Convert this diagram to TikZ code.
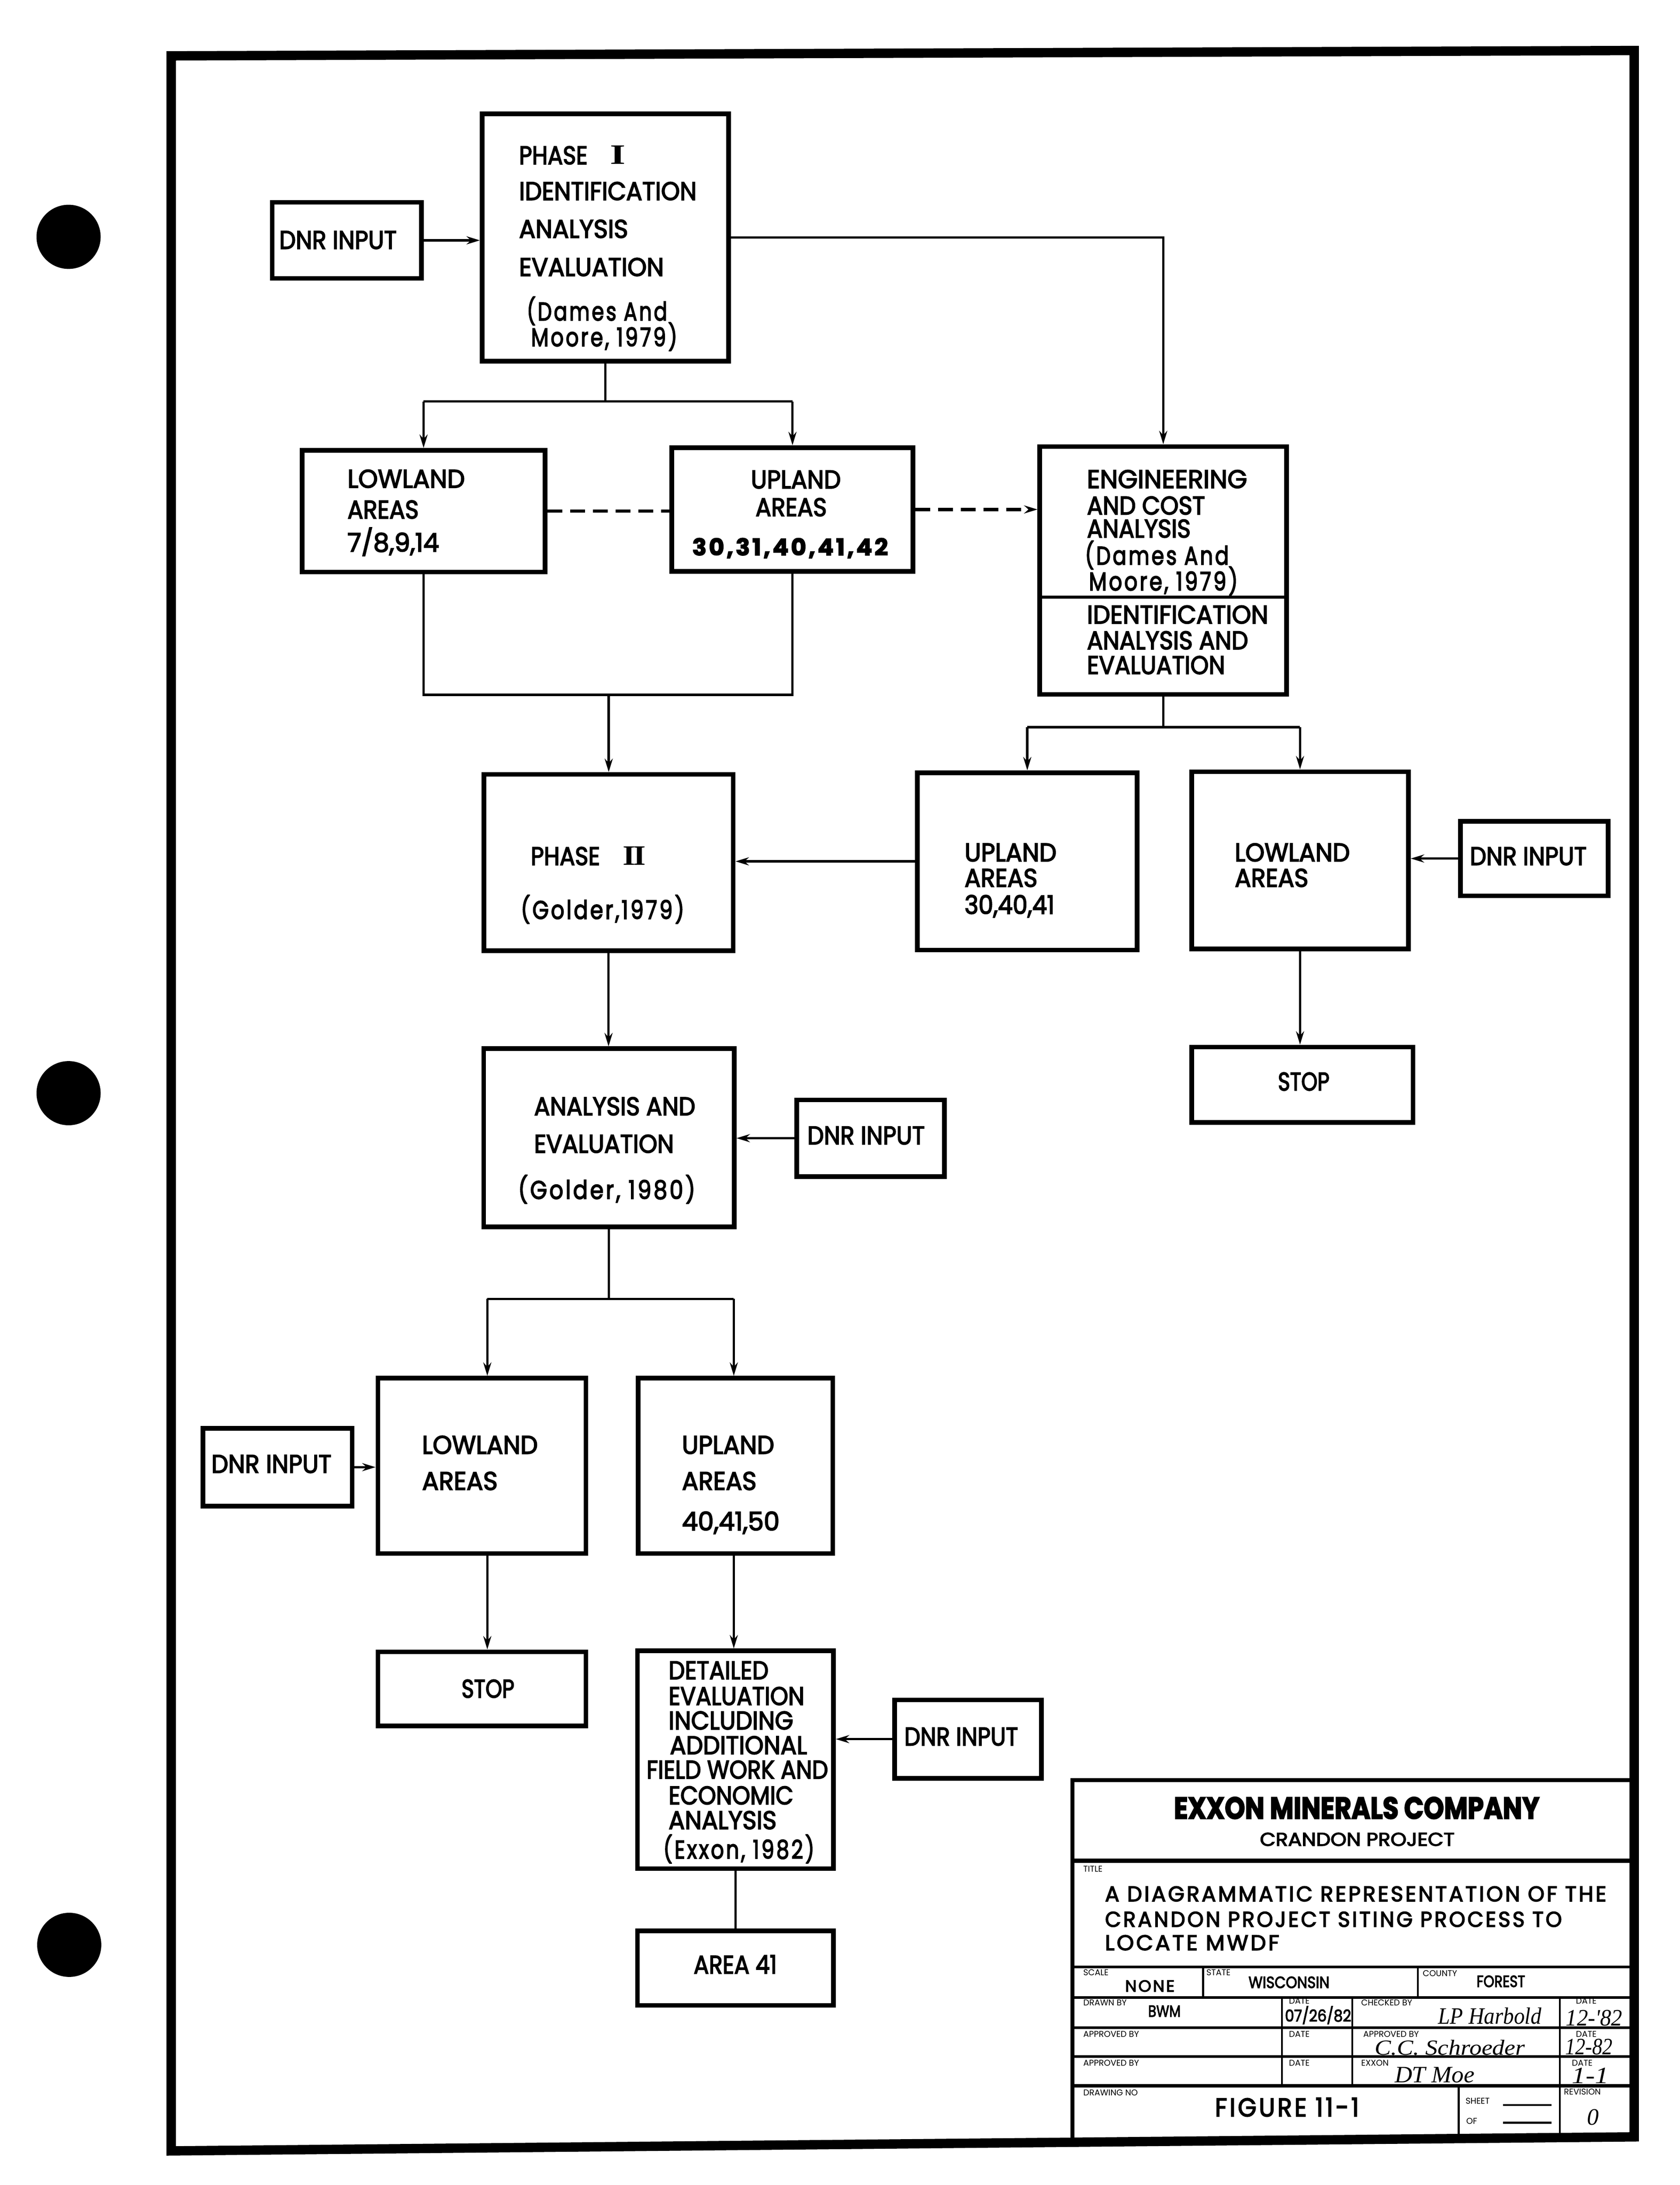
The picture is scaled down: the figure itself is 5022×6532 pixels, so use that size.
\documentclass[tikz,border=0pt]{standalone}
\usepackage{fontspec}
\usepackage{graphicx}
\setmainfont{Poppins}[FakeBold=3.5]
\newfontfamily\tinyfont{Poppins}
\newfontfamily\romfont{Liberation Serif}
\newfontfamily\handfont{Liberation Serif}
\usetikzlibrary{arrows.meta,fit}
\newcommand\fw[2]{\resizebox{\dimexpr 0.005cm*#1\relax}{\height}{#2}}
\newcommand\fmain{\fontsize{10.9}{13}\selectfont}
\newcommand\fnum{\fontsize{9.8}{12}\selectfont\bfseries}
\newcommand\ftiny{\tinyfont\fontsize{3.6}{4}\selectfont}
\newcommand\fexx{\fontsize{13}{15}\selectfont\bfseries}
\newcommand\fcran{\fontsize{7.9}{9}\selectfont}
\newcommand\ftitle{\fontsize{9.1}{11}\selectfont}
\newcommand\fcell{\fontsize{6.9}{8}\selectfont}
\newcommand\ffig{\fontsize{11}{13}\selectfont}
\newcommand\fhand{\handfont\itshape\fontsize{10}{12}\selectfont}
\newcommand\froman{\romfont\bfseries\fontsize{12}{14}\selectfont}
\newcommand\lsp{\addfontfeature{LetterSpace=10}}
\begin{document}
\begin{tikzpicture}[x=0.005cm,y=-0.005cm,
  box/.style={draw, line width=0.07cm, inner sep=0pt},
  txt/.style={inner sep=0pt, outer sep=0pt, anchor=base west, font=\fmain},
  tiny/.style={inner sep=0pt, outer sep=0pt, anchor=base west, font=\ftiny},
  con/.style={line width=0.035cm},
  arr/.style={con, -{Stealth[length=0.2cm,width=0.12cm]}},
  dsh/.style={line width=0.05cm, dash pattern=on 0.22cm off 0.12cm},
  tbl/.style={line width=0.04cm},
  tblc/.style={line width=0.03cm}]
% background / bounding box
\fill[white] (0,0) rectangle (5022,6532);
% frame and punch holes
\draw[line width=0.14cm, line join=miter] (512,167) -- (4886,151) -- (4886,6388) -- (512,6430) -- cycle;
\fill (205,708) circle (0.48cm);
\fill (205,3268) circle (0.48cm);
\fill (207,5814) circle (0.48cm);

% ---------- boxes ----------
\node[box, fit={(814,605) (1260,832)}] (dnr1) {};
\node[box, fit={(1442,340) (2178,1080)}] (ph1) {};
\node[box, fit={(903,1346) (1630,1710)}] (low1) {};
\node[box, fit={(2009,1338) (2730,1708)}] (up1) {};
\node[box, fit={(3109,1335) (3847,2076)}] (eng) {};
\node[box, fit={(1447,2315) (2192,2842)}] (ph2) {};
\node[box, fit={(2743,2310) (3400,2840)}] (up2) {};
\node[box, fit={(3563,2307) (4211,2837)}] (low2) {};
\node[box, fit={(4367,2455) (4808,2678)}] (dnr2) {};
\node[box, fit={(3563,3130) (4225,3355)}] (stop1) {};
\node[box, fit={(1446,3135) (2195,3668)}] (an) {};
\node[box, fit={(2382,3288) (2824,3517)}] (dnr3) {};
\node[box, fit={(1130,4120) (1752,4644)}] (low3) {};
\node[box, fit={(1908,4120) (2490,4644)}] (up3) {};
\node[box, fit={(607,4270) (1053,4502)}] (dnr4) {};
\node[box, fit={(1130,4938) (1752,5160)}] (stop2) {};
\node[box, fit={(1906,4935) (2492,5586)}] (det) {};
\node[box, fit={(2675,5082) (3114,5316)}] (dnr5) {};
\node[box, fit={(1906,5772) (2492,5995)}] (a41) {};
\coordinate (dv) at (0,1785);
\draw[line width=0.05cm] (eng.west |- dv) -- (eng.east |- dv);

% ---------- connectors ----------
\draw[arr] (dnr1.east) -- (dnr1.east -| ph1.west);
\draw[arr] (ph1.east) -| (eng.north);
\coordinate (s1) at (1810,1200);
\draw[con] (ph1.south) -- (s1);
\coordinate (s1l) at (low1.north |- s1);
\coordinate (s1r) at (up1.north |- s1);
\draw[con] (s1l) -- (s1r);
\draw[arr] (s1l) -- (low1.north);
\draw[arr] (s1r) -- (up1.north);
\draw[dsh] (low1.east) -- (low1.east -| up1.west);
\draw[dsh, -{Stealth[length=0.2cm,width=0.12cm]}] (up1.east) -- (up1.east -| eng.west);
\coordinate (m1) at (1820,2077);
\draw[con] (low1.south) -- (low1.south |- m1) -- (up1.south |- m1) -- (up1.south);
\draw[arr] (m1) -- (m1 |- ph2.north);
\coordinate (s2) at (3478,2174);
\draw[con] (eng.south) -- (s2);
\coordinate (s2l) at (up2.north |- s2);
\coordinate (s2r) at (low2.north |- s2);
\draw[con] (s2l) -- (s2r);
\draw[arr] (s2l) -- (up2.north);
\draw[arr] (s2r) -- (low2.north);
\draw[arr] (up2.west) -- (up2.west -| ph2.east);
\draw[arr] (dnr2.west) -- (dnr2.west -| low2.east);
\draw[arr] (low2.south) -- (low2.south |- stop1.north);
\draw[arr] (ph2.south) -- (ph2.south |- an.north);
\draw[arr] (dnr3.west) -- (dnr3.west -| an.east);
\coordinate (s3) at (1827,3883);
\coordinate (s3l) at (1457,3883);
\coordinate (s3r) at (2194,3883);
\draw[con] (an.south) -- (an.south |- s3);
\draw[con] (s3l) -- (s3r);
\draw[arr] (s3l) -- (s3l |- low3.north);
\draw[arr] (s3r) -- (s3r |- up3.north);
\draw[arr] (dnr4.east) -- (dnr4.east -| low3.west);
\draw[arr] (s3l |- low3.south) -- (s3l |- stop2.north);
\draw[arr] (s3r |- up3.south) -- (s3r |- det.north);
\draw[arr] (dnr5.west) -- (dnr5.west -| det.east);
\draw[con] (det.south) -- (det.south |- a41.north);

% ---------- box texts ----------
\node[txt] (t01) at (835,744) {\fw{351}{DNR INPUT}};
\node[txt] (t02) at (1552,491) {\fw{205}{PHASE}};
\node[txt, font=\froman] (t03) at (1825,491) {\fw{46}{I}};
\node[txt] (t04) at (1552,598) {\fw{531}{IDENTIFICATION}};
\node[txt] (t05) at (1552,711) {\fw{326}{ANALYSIS}};
\node[txt] (t06) at (1552,825) {\fw{433}{EVALUATION}};
\node[txt] (t07) at (1575,958) {\fw{420}{\lsp(Dames And}};
\node[txt] (t08) at (1588,1035) {\fw{437}{\lsp Moore, 1979)}};

\node[txt] (t09) at (1039,1458) {\fw{351}{LOWLAND}};
\node[txt] (t10) at (1039,1550) {\fw{213}{AREAS}};
\node[txt] (t11) at (1039,1649) {\fw{274}{7/8,9,14}};
\node[txt] (t12) at (2245,1460) {\fw{269}{UPLAND}};
\node[txt] (t13) at (2259,1543) {\fw{213}{AREAS}};
\node[txt, font=\fnum] (t14) at (2070,1660) {\fw{585}{\lsp 30,31,40,41,42}};

\node[txt] (t15) at (3250,1459) {\fw{479}{ENGINEERING}};
\node[txt] (t16) at (3250,1538) {\fw{353}{AND COST}};
\node[txt] (t17) at (3250,1607) {\fw{310}{ANALYSIS}};
\node[txt] (t18) at (3244,1688) {\fw{430}{\lsp(Dames And}};
\node[txt] (t19) at (3256,1765) {\fw{445}{\lsp Moore, 1979)}};
\node[txt] (t20) at (3250,1864) {\fw{542}{IDENTIFICATION}};
\node[txt] (t21) at (3250,1941) {\fw{482}{ANALYSIS AND}};
\node[txt] (t22) at (3250,2015) {\fw{413}{EVALUATION}};

\node[txt] (t23) at (1587,2586) {\fw{207}{PHASE}};
\node[txt, font=\froman] (t24) at (1862,2586) {\fw{69}{I\kern-0.06em I}};
\node[txt] (t25) at (1557,2747) {\fw{489}{\lsp(Golder,1979)}};
\node[txt] (t26) at (2884,2575) {\fw{275}{UPLAND}};
\node[txt] (t27) at (2884,2651) {\fw{218}{AREAS}};
\node[txt] (t28) at (2884,2732) {\fw{269}{30,40,41}};
\node[txt] (t29) at (3692,2575) {\fw{344}{LOWLAND}};
\node[txt] (t30) at (3692,2651) {\fw{220}{AREAS}};
\node[txt] (t31) at (4395,2586) {\fw{349}{DNR INPUT}};
\node[txt] (t32) at (3821,3260) {\fw{154}{STOP}};

\node[txt] (t33) at (1597,3334) {\fw{482}{ANALYSIS AND}};
\node[txt] (t34) at (1597,3446) {\fw{418}{EVALUATION}};
\node[txt] (t35) at (1549,3584) {\fw{530}{\lsp(Golder, 1980)}};
\node[txt] (t36) at (2414,3421) {\fw{351}{DNR INPUT}};

\node[txt] (t37) at (1262,4346) {\fw{346}{LOWLAND}};
\node[txt] (t38) at (1262,4454) {\fw{226}{AREAS}};
\node[txt] (t39) at (2039,4346) {\fw{276}{UPLAND}};
\node[txt] (t40) at (2039,4454) {\fw{223}{AREAS}};
\node[txt] (t41) at (2039,4575) {\fw{292}{40,41,50}};
\node[txt] (t42) at (632,4403) {\fw{359}{DNR INPUT}};
\node[txt] (t43) at (1380,5075) {\fw{158}{STOP}};

\node[txt] (t44) at (1999,5020) {\fw{299}{DETAILED}};
\node[txt] (t45) at (1999,5097) {\fw{406}{EVALUATION}};
\node[txt] (t46) at (1999,5170) {\fw{373}{INCLUDING}};
\node[txt] (t47) at (2003,5244) {\fw{410}{ADDITIONAL}};
\node[txt] (t48) at (1933,5317) {\fw{543}{FIELD WORK AND}};
\node[txt] (t49) at (1999,5394) {\fw{373}{ECONOMIC}};
\node[txt] (t50) at (1999,5468) {\fw{323}{ANALYSIS}};
\node[txt] (t51) at (1983,5556) {\fw{452}{\lsp(Exxon, 1982)}};
\node[txt] (t52) at (2704,5218) {\fw{340}{DNR INPUT}};
\node[txt] (t53) at (2074,5900) {\fw{249}{AREA 41}};

% ---------- title block ----------
\draw[line width=0.06cm] (3207,6404) -- (3207,5322) -- (4886,5322);
\draw[line width=0.065cm] (3207,5562) -- (4886,5562);
\draw[tbl] (3207,5880) -- (4886,5880);
\draw[tbl] (3207,5971) -- (4886,5971);
\draw[tbl] (3207,6062) -- (4886,6062);
\draw[tbl] (3207,6148) -- (4886,6148);
\draw[line width=0.05cm] (3207,6235) -- (4886,6235);
\draw[tblc] (3597,5880) -- (3597,5971);
\draw[tblc] (4239,5880) -- (4239,5971);
\draw[tblc] (3833,5971) -- (3833,6235);
\draw[tblc] (4043,5971) -- (4043,6235);
\draw[tblc] (4664,5971) -- (4664,6395);
\draw[tblc] (4361,6235) -- (4361,6398);
\draw[tblc] (4494,6293) -- (4639,6293);
\draw[tblc] (4494,6346) -- (4639,6346);

\node[txt, font=\fexx] (b01) at (3510,5437) {\fw{1093}{EXXON MINERALS COMPANY}};
\node[txt, font=\fcran] (b02) at (3767,5518) {\fw{582}{CRANDON PROJECT}};
\node[tiny] (b03) at (3239,5596) {TITLE};
\node[txt, font=\ftitle] (b04) at (3304,5684) {\fw{1499}{\lsp A DIAGRAMMATIC REPRESENTATION OF THE}};
\node[txt, font=\ftitle] (b05) at (3304,5760) {\fw{1366}{\lsp CRANDON PROJECT SITING PROCESS TO}};
\node[txt, font=\ftitle] (b06) at (3304,5830) {\fw{521}{\lsp LOCATE MWDF}};
\node[tiny] (b07) at (3239,5905) {SCALE};
\node[txt, font=\fcell] (b08) at (3364,5954) {\fw{148}{\lsp NONE}};
\node[tiny] (b09) at (3607,5905) {STATE};
\node[txt, font=\fcell] (b10) at (3733,5943) {\fw{242}{WISCONSIN}};
\node[tiny] (b11) at (4254,5908) {COUNTY};
\node[txt, font=\fcell] (b12) at (4415,5940) {\fw{145}{FOREST}};
\node[tiny] (b13) at (3239,5996) {DRAWN BY};
\node[txt, font=\fcell] (b14) at (3433,6029) {\fw{97}{BWM}};
\node[tiny] (b15) at (3854,5990) {DATE};
\node[txt, font=\fcell] (b16) at (3842,6043) {\fw{198}{07/26/82}};
\node[tiny] (b17) at (4070,5996) {CHECKED BY};
\node[txt, font=\fhand] (b18) at (4300,6050) {\fw{309}{LP Harbold}};
\node[tiny] (b19) at (4712,5990) {DATE};
\node[txt, font=\fhand] (b20) at (4682,6056) {\fw{169}{12-'82}};
\node[tiny] (b21) at (3239,6090) {APPROVED BY};
\node[tiny] (b22) at (3854,6090) {DATE};
\node[tiny] (b23) at (4076,6090) {APPROVED BY};
\node[txt, font=\fhand] (b24) at (4110,6143) {\fw{450}{\fontsize{9.2}{11}\selectfont C.C. Schroeder}};
\node[tiny] (b25) at (4712,6090) {DATE};
\node[txt, font=\fhand] (b26) at (4680,6142) {\fw{141}{12-82}};
\node[tiny] (b27) at (3239,6176) {APPROVED BY};
\node[tiny] (b28) at (3854,6176) {DATE};
\node[tiny] (b29) at (4070,6176) {EXXON};
\node[txt, font=\fhand] (b30) at (4170,6225) {\fw{239}{DT Moe}};
\node[tiny] (b31) at (4700,6176) {DATE};
\node[txt, font=\fhand] (b32) at (4700,6228) {\fw{110}{1-1}};
\node[tiny] (b33) at (3239,6265) {DRAWING NO};
\node[txt, font=\ffig] (b34) at (3633,6327) {\fw{430}{\lsp FIGURE 11-1}};
\node[tiny] (b35) at (4382,6290) {SHEET};
\node[tiny] (b36) at (4384,6350) {OF};
\node[tiny] (b37) at (4676,6262) {REVISION};
\node[txt, font=\fhand] (b38) at (4745,6352) {0};
\end{tikzpicture}
\end{document}
